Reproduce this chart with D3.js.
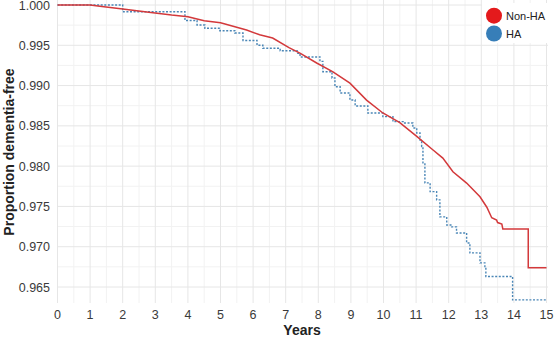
<!DOCTYPE html>
<html lang="en">
<head>
<meta charset="UTF-8">
<title>Dementia-free survival</title>
<script src="https://d3js.org/d3.v7.min.js"></script>
<style>
  body { margin: 0; background: #fff; }
  svg { display: block; font-family: "Liberation Sans", Arial, sans-serif; }
  .grid-major { stroke: #e6e6e6; stroke-width: 1; }
  .grid-minor { stroke: #f2f2f2; stroke-width: 1; }
  .tick-label { fill: #3a3a3a; font-size: 12.5px; }
  .axis-title { fill: #222; font-size: 14px; font-weight: bold; }
</style>
</head>
<body>
<div id="chart"></div>
<script>
// Non-HA group
const nonHaYears = [0, 1.0, 1.3, 2.0, 2.8, 3.5, 4.0, 4.5, 5.0, 5.8, 6.2, 6.6, 7.1, 7.45, 7.95, 8.45, 8.97, 9.48, 9.98, 10.5, 11.02, 11.52, 11.82, 12.13, 12.55, 12.96, 13.17, 13.32, 13.47, 13.5, 13.63, 13.66, 14.44, 14.44, 15];
const nonHaSurv  = [1.0, 1.0, 0.99985, 0.9995, 0.9991, 0.99875, 0.99855, 0.99805, 0.9978, 0.9969, 0.9963, 0.9959, 0.9947, 0.9940, 0.9928, 0.9917, 0.9903, 0.9882, 0.9866, 0.9854, 0.9837, 0.9820, 0.9810, 0.9793, 0.9779, 0.9762, 0.9749, 0.9736, 0.9733, 0.9730, 0.9728, 0.9722, 0.9722, 0.9674, 0.9674];

// HA group, step points (value holds until next time)
const haYears = [0, 2.0, 3.91, 4.28, 4.52, 4.98, 5.44, 5.69, 6.12, 6.30, 6.83, 7.35, 7.44, 8.05, 8.14, 8.42, 8.51, 8.67, 8.97, 9.13, 9.52, 9.98, 10.29, 10.60, 10.90, 11.02, 11.12, 11.17, 11.21, 11.27, 11.43, 11.63, 11.73, 11.94, 12.09, 12.24, 12.55, 12.65, 12.96, 13.11, 13.14, 13.96, 15];
const haSurv  = [1.0, 0.99917, 0.99808, 0.99752, 0.99711, 0.99681, 0.99653, 0.9956, 0.9950, 0.99463, 0.99433, 0.9940, 0.99355, 0.9930, 0.99172, 0.99094, 0.98986, 0.98908, 0.98821, 0.98747, 0.9866, 0.98614, 0.98552, 0.98536, 0.98474, 0.98412, 0.98325, 0.98242, 0.9804, 0.97792, 0.97684, 0.97581, 0.9737, 0.9727, 0.97246, 0.97171, 0.97047, 0.96923, 0.96799, 0.96753, 0.9663, 0.9634, 0.9634];

const xTicks = d3.range(0, 16, 1);
const xMinor = d3.range(0.5, 15, 1);
const yTicks = [0.965, 0.970, 0.975, 0.980, 0.985, 0.990, 0.995, 1.000];
const yMinor = [0.9675, 0.9725, 0.9775, 0.9825, 0.9875, 0.9925, 0.9975];

const groups = ["Non-HA", "HA"];
const legendColors = ["#e41a1c", "#377eb8"];

const width = 555, height = 337;
const panel = { left: 57.5, right: 548, top: 0, bottom: 303 };

const svg = d3.select("#chart").append("svg")
  .attr("width", width)
  .attr("height", height);

const x = d3.scaleLinear().domain([0, 15]).range([57.5, 546.5]);
const y = d3.scaleLinear().domain([0.965, 1.0]).range([287, 5]);

// grid
const grid = svg.append("g");
grid.selectAll(".xm").data(xMinor).enter().append("line")
  .attr("class", "grid-minor")
  .attr("x1", d => x(d)).attr("x2", d => x(d))
  .attr("y1", panel.top).attr("y2", panel.bottom);
grid.selectAll(".ym").data(yMinor).enter().append("line")
  .attr("class", "grid-minor")
  .attr("x1", panel.left).attr("x2", panel.right)
  .attr("y1", d => y(d)).attr("y2", d => y(d));
grid.selectAll(".xM").data(xTicks).enter().append("line")
  .attr("class", "grid-major")
  .attr("x1", d => x(d)).attr("x2", d => x(d))
  .attr("y1", panel.top).attr("y2", panel.bottom);
grid.selectAll(".yM").data(yTicks).enter().append("line")
  .attr("class", "grid-major")
  .attr("x1", panel.left).attr("x2", panel.right)
  .attr("y1", d => y(d)).attr("y2", d => y(d));

// tick labels
svg.selectAll(".xl").data(xTicks).enter().append("text")
  .attr("class", "tick-label")
  .attr("x", d => x(d)).attr("y", 318.5)
  .attr("text-anchor", "middle")
  .text(d => d);
svg.selectAll(".yl").data(yTicks).enter().append("text")
  .attr("class", "tick-label")
  .attr("x", 50).attr("y", d => y(d) + 4.5)
  .attr("text-anchor", "end")
  .text(d => d3.format(".3f")(d));

// axis titles
svg.append("text").attr("class", "axis-title")
  .attr("x", 302).attr("y", 334.5)
  .attr("text-anchor", "middle")
  .text("Years");
svg.append("text").attr("class", "axis-title")
  .attr("transform", "translate(13.5,152) rotate(-90)")
  .attr("text-anchor", "middle")
  .text("Proportion dementia-free");

// curves
const nonHa = nonHaYears.map((t, i) => [t, nonHaSurv[i]]);
const ha = haYears.map((t, i) => [t, haSurv[i]]);

svg.append("path")
  .datum(ha)
  .attr("fill", "none")
  .attr("stroke", "#4a86b6")
  .attr("stroke-width", 1.4)
  .attr("stroke-dasharray", "2,1.6")
  .attr("d", d3.line().curve(d3.curveStepAfter).x(d => x(d[0])).y(d => y(d[1])));

svg.append("path")
  .datum(nonHa)
  .attr("fill", "none")
  .attr("stroke", "#d3393b")
  .attr("stroke-width", 1.5)
  .attr("d", d3.line().x(d => x(d[0])).y(d => y(d[1])));

// legend
const legend = svg.append("g");
legend.append("rect")
  .attr("x", 482).attr("y", 3).attr("width", 67).attr("height", 40)
  .attr("fill", "#fff");
const item = legend.selectAll(".item").data(groups).enter().append("g")
  .attr("transform", (d, i) => `translate(494,${15.7 + i * 17.8})`);
item.append("circle").attr("r", 8).attr("fill", (d, i) => legendColors[i]);
item.append("text")
  .attr("x", 12).attr("y", 4)
  .attr("font-size", "11px")
  .attr("fill", "#222")
  .text(d => d);
</script>
</body>
</html>
